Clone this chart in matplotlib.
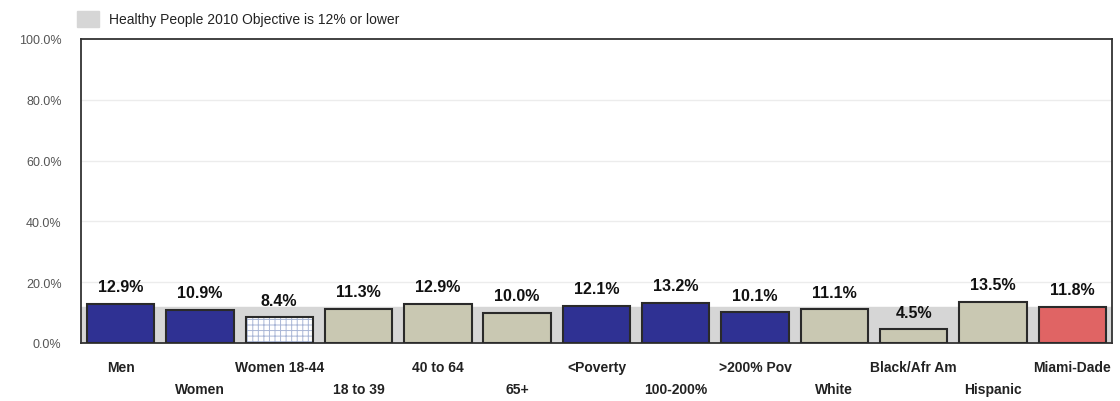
import matplotlib
matplotlib.use('Agg')
import matplotlib.pyplot as plt
from matplotlib.patches import Rectangle
import matplotlib.transforms as mtransforms

# data
categories = ['Men', 'Women', 'Women 18-44', '18 to 39', '40 to 64', '65+',
              '<Poverty', '100-200%', '>200% Pov', 'White', 'Black/Afr Am',
              'Hispanic', 'Miami-Dade']
values = [12.9, 10.9, 8.4, 11.3, 12.9, 10.0, 12.1, 13.2, 10.1, 11.1, 4.5, 13.5, 11.8]
objective = 12.0
yticks = [0, 20, 40, 60, 80, 100]

navy = '#2f3193'
tan = '#c9c8b2'
red = '#e06464'
barColors = [navy, navy, 'white', tan, tan, tan, navy, navy, navy, tan, tan, tan, red]

plt.rcParams['font.family'] = ['Liberation Sans', 'DejaVu Sans']
plt.rcParams['hatch.linewidth'] = 0.7

fig = plt.figure(figsize=(11.2, 4.02), dpi=100)
ax = fig.add_axes([0.0723, 0.1443, 0.9205, 0.7562])

x = list(range(len(categories)))
ax.set_xlim(-0.5, len(categories) - 0.5)
ax.set_ylim(0, 100)

# objective band
ax.axhspan(0, objective, color='#d6d6d6', zorder=1)
for t in yticks[1:-1]:
	ax.axhline(t, color='#ececec', linewidth=1, zorder=0)

ax.bar(x, values, width=0.85, color=barColors, linewidth=0, zorder=3)
#light blue grid pattern on the women 18-44 bar
ax.bar(x[2], values[2], width=0.85, fill=False, hatch='+++', edgecolor='#a9b6d6', linewidth=0, zorder=3.5)
ax.bar(x, values, width=0.85, fill=False, edgecolor='#2a2a2a', linewidth=1.5, zorder=4)

for i, v in enumerate(values):
	ax.annotate('%.1f%%' % v, (i, v), xytext=(0, 7), textcoords='offset points',
				ha='center', va='bottom', fontsize=11.5, fontweight='bold', color='#111111')

# staggered category labels
trans = mtransforms.blended_transform_factory(ax.transData, ax.transAxes)
for i, c in enumerate(categories):
	yy = -0.079 if i % 2 == 0 else -0.151
	ax.text(i, yy, c, transform=trans, ha='center', va='center', fontsize=10,
			fontweight='bold', color='#222222')

ax.set_xticks([])
ax.set_yticks(yticks)
ax.set_yticklabels(['%.1f%%' % t for t in yticks], fontsize=9, color='#555555')
ax.tick_params(axis='y', length=0, pad=14)
for s in ax.spines.values():
	s.set_color('#333333')
	s.set_linewidth(1.3)

# legend box
fig.patches.append(Rectangle((77 / 1120, 1 - 28 / 402), 22 / 1120, 16 / 402,
							 transform=fig.transFigure, color='#d6d6d6'))
fig.text(109 / 1120, 1 - 20 / 402, 'Healthy People 2010 Objective is 12% or lower',
		 fontsize=10, va='center', ha='left', color='#222222')

plt.savefig('out.png', dpi=100)
